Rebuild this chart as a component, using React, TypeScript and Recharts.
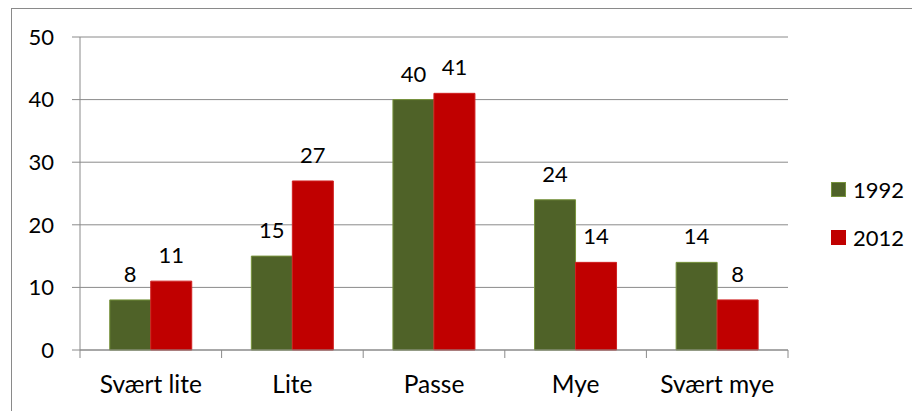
import React from 'react';
import { BarChart, Bar, XAxis, YAxis, CartesianGrid, Legend, LabelList } from 'recharts';

const categories = ['Svært lite', 'Lite', 'Passe', 'Mye', 'Svært mye'];
const values1992 = [8, 15, 40, 24, 14];
const values2012 = [11, 27, 41, 14, 8];
const yTicks = [0, 10, 20, 30, 40, 50];
const seriesNames = ['1992', '2012'];

const data = categories.map((c, i) => ({ name: c, a: values1992[i], b: values2012[i] }));

const FONT = 'Lato, "Open Sans", sans-serif';
const GRAY = '#8a8a8a';

const XTick = (props: any) => {
  const { x, y, payload, index } = props;
  const off = payload.offset || 0;
  const last = index === categories.length - 1;
  return (
    <g>
      <line x1={x - off} x2={x - off} y1={y} y2={y + 8} stroke={GRAY} strokeWidth={1} />
      {last && <line x1={x + off} x2={x + off} y1={y} y2={y + 8} stroke={GRAY} strokeWidth={1} />}
      <text x={x} y={y + 43} textAnchor="middle" fontFamily={FONT} fontSize={24.5} fill="#000">
        {payload.value}
      </text>
    </g>
  );
};

const LegendContent = () => {
  const items = [
    { name: seriesNames[0], fill: '#4F6228', stroke: '#77933C' },
    { name: seriesNames[1], fill: '#C00000', stroke: '#C00000' },
  ];
  return (
    <div style={{ fontFamily: FONT, fontSize: 22, color: '#000' }}>
      {items.map((it) => (
        <div key={it.name} style={{ display: 'flex', alignItems: 'center', height: 48 }}>
          <div style={{ width: 15, height: 15, background: it.fill, border: `1px solid ${it.stroke}`, boxSizing: 'border-box', marginRight: 7 }} />
          <span>{it.name}</span>
        </div>
      ))}
    </div>
  );
};

export default function App() {
  return (
    <div style={{ position: 'relative', width: 912, height: 403, overflow: 'hidden', background: '#fff' }}>
      <div style={{ position: 'absolute', left: 3, top: 0, width: 1000, height: 1000, border: `1px solid ${GRAY}`, boxSizing: 'border-box' }} />
      <div style={{ position: 'absolute', left: 0, top: 0 }}>
        <BarChart
          width={912}
          height={403}
          data={data}
          margin={{ top: 29, right: 132, bottom: 31, left: 0 }}
          barCategoryGap="21%"
          barGap={0}
        >
          <CartesianGrid vertical={false} stroke={GRAY} strokeWidth={1} />
          <YAxis
            width={72}
            domain={[0, 50]}
            ticks={yTicks}
            tickCount={6}
            interval={0}
            axisLine={{ stroke: GRAY }}
            tickLine={{ stroke: GRAY }}
            tickSize={8}
            tickMargin={18}
            tick={{ fontFamily: FONT, fontSize: 22, fill: '#000' }}
          />
          <XAxis
            dataKey="name"
            height={30}
            axisLine={{ stroke: GRAY }}
            tickLine={false}
            tickSize={0}
            tickMargin={0}
            interval={0}
            tick={<XTick />}
          />
          <Legend
            layout="vertical"
            align="center"
            verticalAlign="middle"
            wrapperStyle={{ left: 823, top: 157, width: 90 }}
            content={<LegendContent />}
          />
          <Bar dataKey="a" name={seriesNames[0]} fill="#4F6228" stroke="#77933C" strokeWidth={1} isAnimationActive={false}>
            <LabelList dataKey="a" position="top" offset={18} style={{ fontFamily: FONT, fontSize: 22, fill: '#000' }} />
          </Bar>
          <Bar dataKey="b" name={seriesNames[1]} fill="#C00000" stroke="#D02020" strokeWidth={1} isAnimationActive={false}>
            <LabelList dataKey="b" position="top" offset={18} style={{ fontFamily: FONT, fontSize: 22, fill: '#000' }} />
          </Bar>
        </BarChart>
      </div>
    </div>
  );
}
